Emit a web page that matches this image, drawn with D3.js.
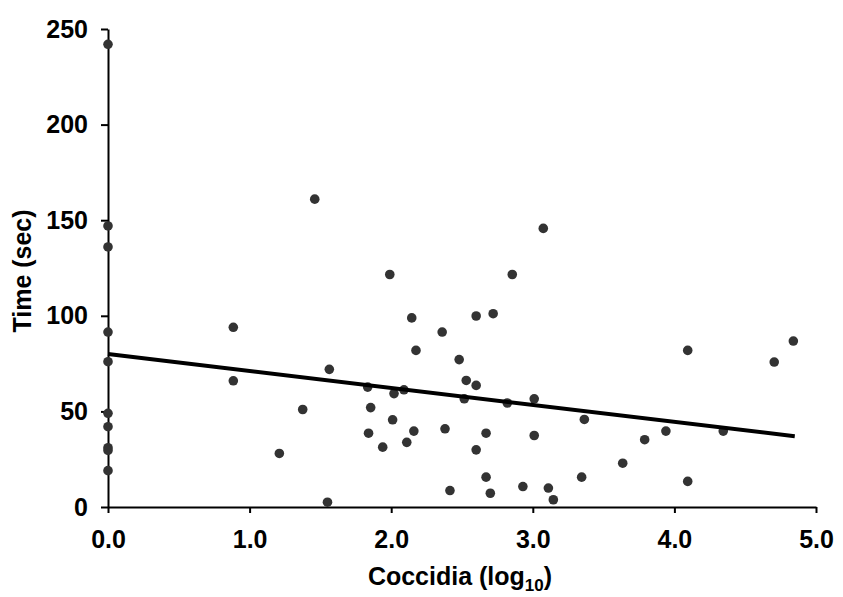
<!DOCTYPE html>
<html>
<head>
<meta charset="utf-8">
<script src="https://cdn.jsdelivr.net/npm/d3@7"></script>
<style>
  body { margin: 0; background: #fff; }
  text { font-family: "Liberation Sans", Arial, sans-serif; font-weight: bold; }
</style>
</head>
<body>
<script>
// coccidia (log10) vs time (sec)
var coccidia = [
  0, 0, 0, 0, 0, 0, 0, 0, 0, 0,
  0.885, 0.885, 1.21, 1.375, 1.46, 1.55, 1.563, 1.834, 1.84, 1.855,
  1.94, 1.99, 2.01, 2.02, 2.09, 2.11, 2.145, 2.16, 2.175, 2.36,
  2.38, 2.415, 2.48, 2.516, 2.53, 2.6, 2.6, 2.6, 2.67, 2.67,
  2.7, 2.72, 2.82, 2.855, 2.93, 3.01, 3.01, 3.074, 3.11, 3.145,
  3.345, 3.364, 3.635, 3.79, 3.94, 4.094, 4.094, 4.345, 4.705, 4.84
];
var timeSec = [
  242, 147, 136, 91.5, 76, 49, 42, 31, 29.6, 19,
  94, 66, 28, 51, 161, 2.5, 72, 62.7, 38.6, 52,
  31.3, 121.6, 45.6, 59.3, 61.3, 33.8, 98.9, 39.7, 81.9, 91.5,
  40.9, 8.6, 77.1, 56.6, 66.2, 99.9, 63.6, 29.9, 38.6, 15.6,
  7.2, 101.1, 54.4, 121.6, 10.7, 56.6, 37.4, 145.7, 9.9, 3.8,
  15.6, 45.8, 22.9, 35.2, 39.7, 81.9, 13.4, 39.7, 75.8, 86.8
];
// regression line ends
var trendX = [0, 4.85];
var trendY = [80, 37];

var xTicks = [0, 1, 2, 3, 4, 5];
var yTicks = [0, 50, 100, 150, 200, 250];

var width = 843, height = 597;

var svg = d3.select("body").append("svg")
  .attr("width", width)
  .attr("height", height);

var x = d3.scaleLinear().domain([0, 5]).range([108, 816]);
var y = d3.scaleLinear().domain([0, 250]).range([507, 29]);

// y axis
var yAxis = svg.append("g")
  .attr("transform", "translate(108,0)")
  .call(d3.axisLeft(y).tickValues(yTicks).tickSize(7).tickSizeOuter(0).tickPadding(13));

// x axis
var xAxis = svg.append("g")
  .attr("transform", "translate(0,507)")
  .call(d3.axisBottom(x).tickValues(xTicks).tickSize(6).tickSizeOuter(0).tickPadding(17)
    .tickFormat(d3.format(".1f")));

[yAxis, xAxis].forEach(function(g) {
  g.selectAll("path, line").attr("stroke", "#000").attr("stroke-width", 2);
  g.selectAll("text")
    .attr("fill", "#000")
    .style("font-size", "25px")
    .style("font-family", "'Liberation Sans', Arial, sans-serif")
    .style("font-weight", "bold");
});

// points
var pts = coccidia.map(function(d, i) { return { c: d, t: timeSec[i] }; });
svg.append("g")
  .selectAll("circle")
  .data(pts)
  .enter()
  .append("circle")
  .attr("cx", function(d) { return x(d.c); })
  .attr("cy", function(d) { return y(d.t); })
  .attr("r", 4.8)
  .attr("fill", "#333");

// trend line
var trend = trendX.map(function(d, i) { return { c: d, t: trendY[i] }; });
svg.append("path")
  .datum(trend)
  .attr("d", d3.line().x(function(d) { return x(d.c); }).y(function(d) { return y(d.t); }))
  .attr("fill", "none")
  .attr("stroke", "#000")
  .attr("stroke-width", 4);

// axis titles
var xt = svg.append("text")
  .attr("x", 460)
  .attr("y", 585)
  .attr("text-anchor", "middle")
  .style("font-size", "25px");
xt.append("tspan").text("Coccidia (log");
xt.append("tspan").text("10").style("font-size", "17px").attr("dy", 6);
xt.append("tspan").text(")").attr("dy", -6);

svg.append("text")
  .attr("transform", "translate(31,271) rotate(-90)")
  .attr("text-anchor", "middle")
  .style("font-size", "25px")
  .text("Time (sec)");
</script>
</body>
</html>
